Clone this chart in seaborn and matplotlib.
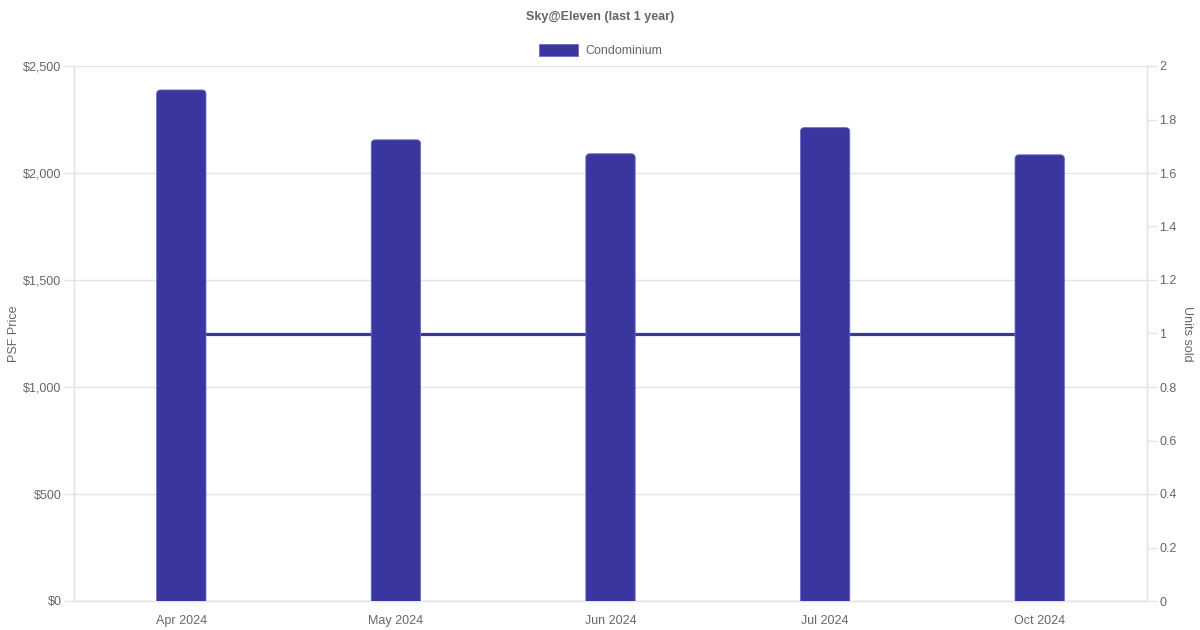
import matplotlib
matplotlib.use("Agg")
import matplotlib.pyplot as plt
import seaborn as sns
import pandas as pd
from matplotlib.patches import FancyBboxPatch
from matplotlib.ticker import FuncFormatter, MultipleLocator

months = ["Apr 2024", "May 2024", "Jun 2024", "Jul 2024", "Oct 2024"]
psf_price = [2388, 2155, 2090, 2212, 2085]
units_sold = [1, 1, 1, 1, 1]

color = "#3A36A0"
grey = "#666666"
grid = "#E5E5E5"

sns.set_theme(style="white")
plt.rcParams["font.family"] = ["Liberation Sans", "DejaVu Sans"]

df = pd.DataFrame({"month": months, "psf": psf_price, "units": units_sold})

fig = plt.figure(figsize=(12, 6.3), dpi=100)
ax = fig.add_axes([74 / 1200, 1 - 601 / 630, (1147 - 74) / 1200, (601 - 66) / 630])
ax2 = ax.twinx()

sns.barplot(data=df, x="month", y="psf", ax=ax, color=color, width=0.23,
            saturation=1, zorder=3)
sns.lineplot(x=list(range(len(months))), y=df["units"], ax=ax2, color=color,
             linewidth=2.3, zorder=1)

# round bar tops
ax.set_ylim(0, 2500)
ax.set_xlim(-0.5, len(months) - 0.5)
px_x = (len(months)) / 1073.0
px_y = 2500 / 535.0
r_px = 4
for p in list(ax.patches):
    x, y, w, h = p.get_x(), p.get_y(), p.get_width(), p.get_height()
    p.remove()
    fb = FancyBboxPatch((x, y - 60), w, h + 60,
                        boxstyle=f"round,pad=0,rounding_size={r_px * px_x}",
                        mutation_aspect=px_y / px_x,
                        facecolor=color, edgecolor="#6E6BC0", linewidth=0.6,
                        zorder=3)
    ax.add_patch(fb)

ax.set_zorder(ax2.get_zorder() + 1)
ax.patch.set_visible(False)

ax.yaxis.set_major_locator(MultipleLocator(500))
ax.yaxis.set_major_formatter(FuncFormatter(lambda v, _: f"${v:,.0f}"))
ax.grid(axis="y", color=grid, linewidth=1, zorder=0)
ax.set_axisbelow(True)
ax.set_xlabel("")
ax.set_ylabel("PSF Price", color=grey, fontsize=9)
ax.yaxis.set_label_coords(-0.050, 0.5)

ax2.set_ylim(0, 2)
ax2.yaxis.set_major_locator(MultipleLocator(0.2))
ax2.yaxis.set_major_formatter(FuncFormatter(lambda v, _: f"{v:g}"))
ax2.set_ylabel("Units sold", color=grey, fontsize=9, rotation=270, labelpad=14)
ax2.yaxis.set_label_coords(1.043, 0.5)

for a in (ax, ax2):
    for s in a.spines.values():
        s.set_color(grid)
        s.set_linewidth(1)
    a.spines["top"].set_visible(False)
    a.tick_params(axis="y", colors=grey, labelsize=9, length=7, width=1,
                  color=grid, pad=2)
ax.tick_params(axis="x", colors=grey, labelsize=9, length=0, pad=10)
ax.tick_params(axis="y", labelcolor=grey)
ax2.tick_params(axis="y", labelcolor=grey)

fig.text(0.5, 1 - 17 / 630, "Sky@Eleven (last 1 year)", ha="center", va="center",
         fontsize=9, fontweight="bold", color=grey)
fig.patches.append(plt.Rectangle((539 / 1200, 1 - 56 / 630), 39 / 1200, 12 / 630,
                                 transform=fig.transFigure, facecolor=color,
                                 edgecolor="#6E6BC0", linewidth=0.6))
fig.text(585 / 1200, 1 - 50 / 630, "Condominium", ha="left", va="center_baseline",
         fontsize=9, color=grey)

fig.savefig("out.png", dpi=100, facecolor="white")
